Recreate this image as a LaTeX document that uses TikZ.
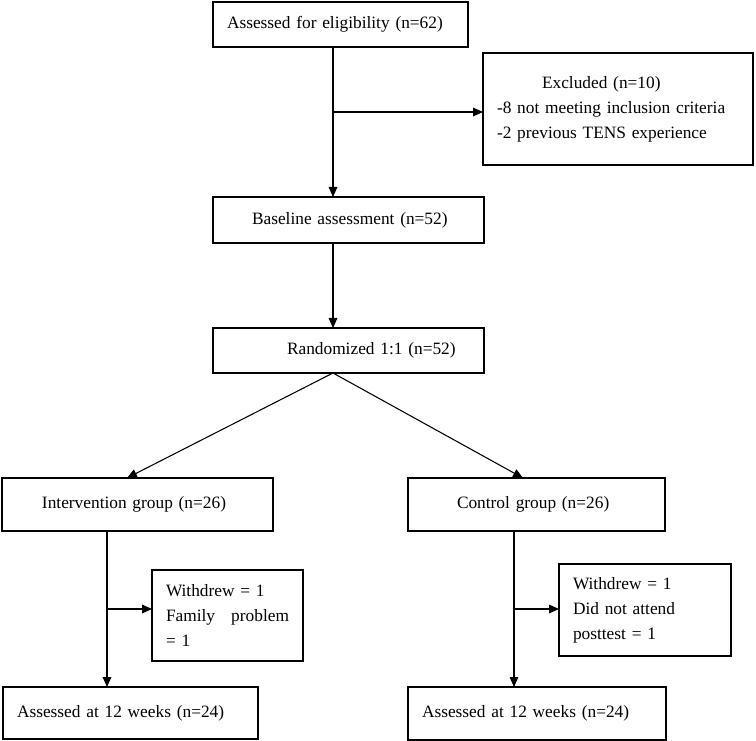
\documentclass[tikz,border=0pt]{standalone}
\usepackage{fontspec}
\setmainfont{Liberation Serif}
\usetikzlibrary{arrows.meta}

\begin{document}
\begin{tikzpicture}[x=0.75pt, y=-0.75pt,
                    every node/.style={font=\fontsize{13}{18.75}\selectfont},
                    box/.style={draw, line width=0.8pt, anchor=north west, outer sep=0pt,
                                inner xsep=10.5pt, align=left},
                    flow/.style={line width=0.8pt, -{Triangle[length=7.5pt,width=6.5pt]}}]
                    \useasboundingbox (0,0) rectangle (756,741);

                    \node[box, minimum width=191.25pt, minimum height=33.75pt, text width=170.25pt] (elig) at (213,2)
                        {Assessed for eligibility (n=62)\\[-2pt]};
                    \node[box, minimum width=202.5pt, minimum height=84pt, text width=181.5pt] (excl) at (483,53)
                        {\hspace*{33.75pt}Excluded (n=10)\\-8 not meeting inclusion criteria\\-2 previous TENS experience\\[20pt]};
                    \node[box, minimum width=203.25pt, minimum height=34.5pt, text width=182.25pt] (base) at (213,197)
                        {\hspace*{18.75pt}Baseline assessment (n=52)};
                    \node[box, minimum width=203.25pt, minimum height=33.75pt, text width=182.25pt] (rand) at (213,328)
                        {\hspace*{45pt}Randomized 1:1 (n=52)};

                    \node[box, minimum width=203.25pt, minimum height=39.75pt, text width=182.25pt] (interv) at (2,478)
                        {\hspace*{19.5pt}Intervention group (n=26)\\[4pt]};
                    \node[box, minimum width=192.75pt, minimum height=39.75pt, text width=171.75pt] (ctrl) at (408,478)
                        {\hspace*{26.25pt}Control group (n=26)\\[4pt]};

                    \node[box, minimum width=113.25pt, minimum height=68.25pt, text width=92.25pt] (wdl) at (152,570)
                        {Withdrew = 1\\Family\hfill problem\\= 1};
                    \node[box, minimum width=129pt, minimum height=69pt, text width=108pt] (wdr) at (559,564)
                        {Withdrew = 1\\Did not attend\\posttest = 1};

                    \node[box, minimum width=191.25pt, minimum height=39pt, text width=170.25pt] (finl) at (3,687)
                        {Assessed at 12 weeks (n=24)\\[4pt]};
                    \node[box, minimum width=193.5pt, minimum height=39.75pt, text width=172.5pt] (finr) at (408,687)
                        {Assessed at 12 weeks (n=24)\\[4pt]};

                    \coordinate (s1) at (333,112);
                    \coordinate (s2) at (107,609);
                    \coordinate (s3) at (514,609);

                    \draw[flow] ([xshift=90pt]elig.south west) -- ([xshift=90pt]base.north west);
                    \draw[flow] (s1) -- (s1 -| excl.west);
                    \draw[flow] ([xshift=90pt]base.south west) -- ([xshift=90pt]rand.north west);

                    \draw[flow] ([xshift=90pt]rand.south west) -- ([xshift=93.75pt]interv.north west);
                    \draw[flow] ([xshift=90pt]rand.south west) -- ([xshift=86.25pt]ctrl.north west);

                    \draw[flow] ([xshift=78.75pt]interv.south west) -- ([xshift=78pt]finl.north west);
                    \draw[flow] (s2) -- (s2 -| wdl.west);
                    \draw[flow] ([xshift=79.5pt]ctrl.south west) -- ([xshift=79.5pt]finr.north west);
                    \draw[flow] (s3) -- (s3 -| wdr.west);
                \end{tikzpicture}
\end{document}
